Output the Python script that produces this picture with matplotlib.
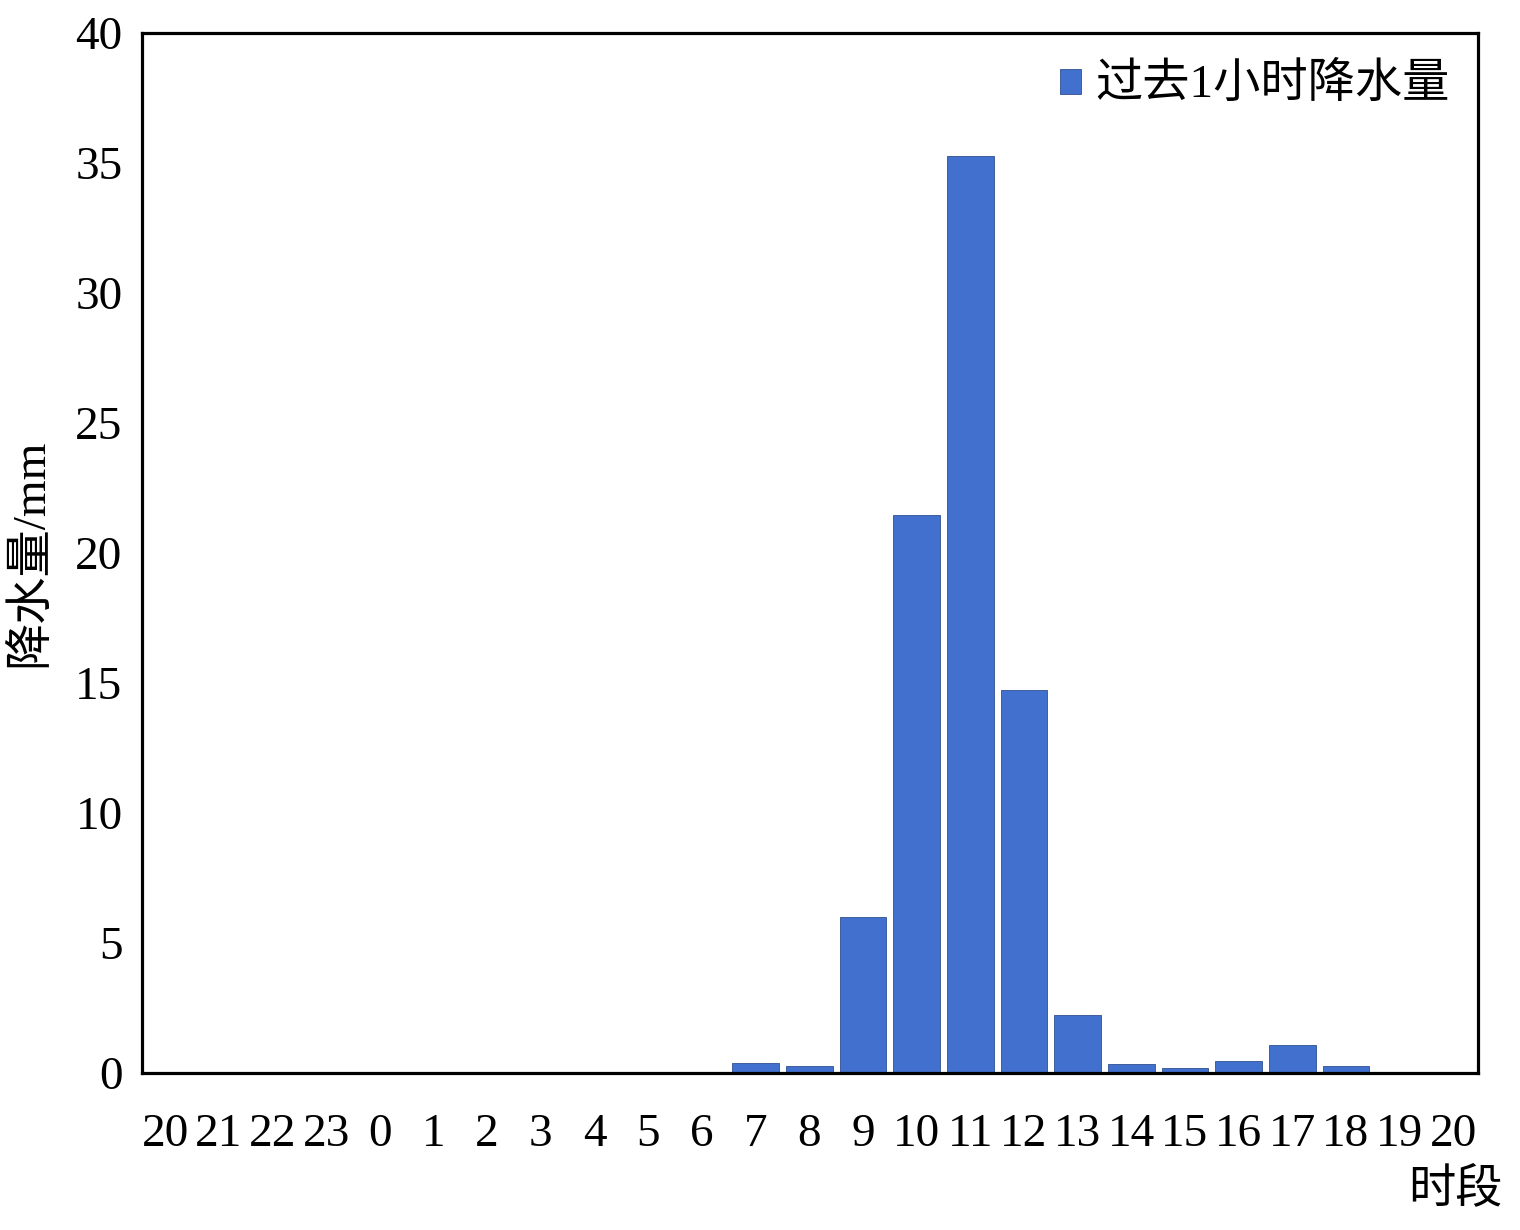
import matplotlib
matplotlib.use('Agg')
import matplotlib.pyplot as plt

plt.rcParams['font.family'] = ['Liberation Serif', 'Noto Sans CJK SC']

# 时段标签与过去1小时降水量 (mm)
hours = ['20', '21', '22', '23', '0', '1', '2', '3', '4', '5', '6', '7', '8',
         '9', '10', '11', '12', '13', '14', '15', '16', '17', '18', '19', '20']
rain = [0, 0, 0, 0, 0, 0, 0, 0, 0, 0, 0, 0.38, 0.27,
        6.0, 21.45, 35.25, 14.75, 2.22, 0.35, 0.18, 0.45, 1.08, 0.27, 0, 0]

bar_color = '#4170CF'

fig = plt.figure(figsize=(15.2, 12.3), dpi=100)
ax = fig.add_axes([0.0934, 0.1276, 0.879, 0.8456])

x = list(range(len(hours)))
ax.bar(x, rain, width=0.87, color=bar_color, edgecolor='#2f4f8f', linewidth=0.6,
       label='过去1小时降水量')

ax.set_xlim(-0.43, 24.46)
ax.set_ylim(0, 40)
ax.set_xticks(x)
ax.set_xticklabels(hours)
ax.set_yticks(range(0, 41, 5))
ax.tick_params(axis='both', length=0, labelsize=34)
ax.tick_params(axis='x', pad=29)
ax.tick_params(axis='y', pad=14)

for sp in ax.spines.values():
    sp.set_linewidth(2.3)
    sp.set_color('black')

ax.set_ylabel('降水量/mm', fontsize=34, labelpad=16)
fig.text(0.9885, 0.032, '时段', fontsize=34, ha='right', va='center')

ax.legend(loc='upper right', frameon=False, fontsize=34,
          handlelength=0.45, handleheight=0.45, handletextpad=0.3,
          borderaxespad=0.2, bbox_to_anchor=(1.0, 0.997))

fig.savefig('out.png', dpi=100)
